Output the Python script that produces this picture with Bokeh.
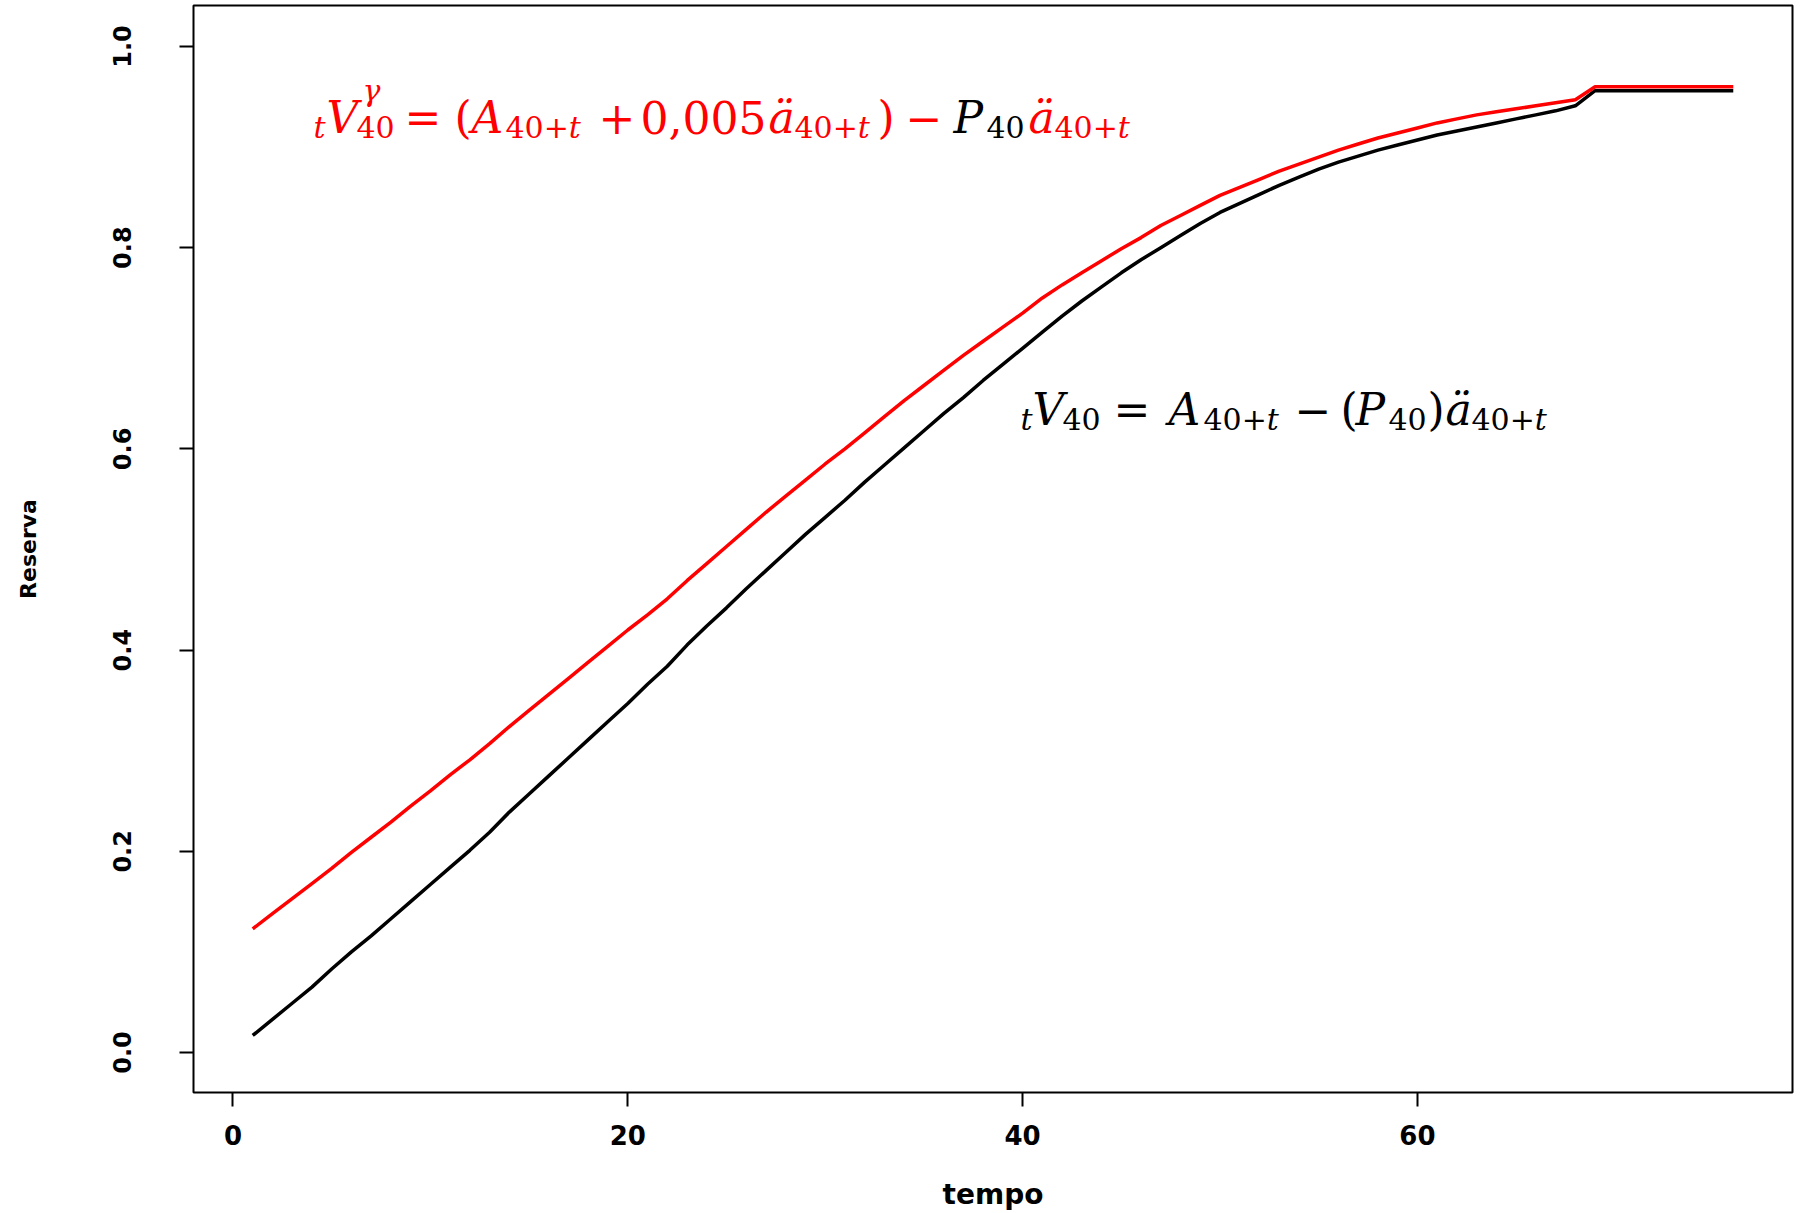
from bokeh.plotting import figure
from bokeh.models import Range1d, FixedTicker, PrintfTickFormatter, Label
from bokeh.embed import file_html
from bokeh.resources import INLINE

# ---- data ----
tempo = list(range(1, 77))
reserva = [0.017, 0.033, 0.049, 0.065, 0.083, 0.100, 0.116, 0.133, 0.150, 0.167,
           0.184, 0.201, 0.219, 0.239, 0.257, 0.275, 0.293, 0.311, 0.329, 0.347,
           0.366, 0.384, 0.405, 0.424, 0.442, 0.461, 0.479, 0.497, 0.515, 0.532,
           0.549, 0.567, 0.584, 0.601, 0.618, 0.635, 0.651, 0.668, 0.684, 0.700,
           0.716, 0.732, 0.747, 0.761, 0.775, 0.788, 0.800, 0.812, 0.824, 0.835,
           0.844, 0.853, 0.862, 0.870, 0.878, 0.885, 0.891, 0.897, 0.902, 0.907,
           0.912, 0.916, 0.920, 0.924, 0.928, 0.932, 0.936, 0.941, 0.956, 0.956,
           0.956, 0.956, 0.956, 0.956, 0.956, 0.956]
reserva_gamma = [0.123, 0.138, 0.153, 0.168, 0.183, 0.199, 0.214, 0.229, 0.245, 0.260,
                 0.276, 0.291, 0.307, 0.324, 0.340, 0.356, 0.372, 0.388, 0.404, 0.420,
                 0.435, 0.451, 0.469, 0.486, 0.503, 0.520, 0.537, 0.553, 0.569, 0.585,
                 0.600, 0.616, 0.632, 0.648, 0.663, 0.678, 0.693, 0.707, 0.721, 0.735,
                 0.750, 0.763, 0.775, 0.787, 0.799, 0.810, 0.822, 0.832, 0.842, 0.852,
                 0.860, 0.868, 0.876, 0.883, 0.890, 0.897, 0.903, 0.909, 0.914, 0.919,
                 0.924, 0.928, 0.932, 0.935, 0.938, 0.941, 0.944, 0.947, 0.960, 0.960,
                 0.960, 0.960, 0.960, 0.960, 0.960, 0.960]
x_ticks = [0, 20, 40, 60]
y_ticks = [0.0, 0.2, 0.4, 0.6, 0.8, 1.0]
x_label = "tempo"
y_label = "Reserva"

# ---- layout ----
W, H = 1804, 1213
F_LEFT, F_RIGHT, F_TOP, F_BOTTOM = 193, 1792, 5, 1093   # frame in page pixels
X0, X1 = -2.0, 79.0
Y0, Y1 = -0.0397, 1.0407

p = figure(width=W, height=H, output_backend="svg", toolbar_location=None,
           x_range=Range1d(X0, X1), y_range=Range1d(Y0, Y1),
           min_border_left=F_LEFT, min_border_right=W - F_RIGHT,
           min_border_top=F_TOP, min_border_bottom=H - F_BOTTOM)
p.grid.visible = False
p.background_fill_color = "white"
p.border_fill_color = "white"
p.outline_line_color = "black"
p.outline_line_width = 2

p.line(tempo, reserva, line_color="black", line_width=3.5)
p.line(tempo, reserva_gamma, line_color="red", line_width=3.5)

for ax in (p.xaxis[0], p.yaxis[0]):
    ax.axis_line_color = "black"
    ax.axis_line_width = 1
    ax.major_tick_line_color = "black"
    ax.major_tick_line_width = 2
    ax.major_tick_out = 14
    ax.major_tick_in = 0
    ax.minor_tick_line_color = None
    ax.major_label_text_font = "DejaVu Sans"
    ax.major_label_text_font_style = "bold"
    ax.major_label_text_color = "black"
    ax.axis_label_text_font = "DejaVu Sans"
    ax.axis_label_text_font_style = "bold"
    ax.axis_label_text_color = "black"

p.xaxis.ticker = FixedTicker(ticks=x_ticks)
p.yaxis.ticker = FixedTicker(ticks=y_ticks)
p.yaxis.formatter = PrintfTickFormatter(format="%.1f")
p.xaxis.major_label_text_font_size = "26px"
p.yaxis.major_label_text_font_size = "24px"
p.yaxis.major_label_orientation = "vertical"
p.xaxis.major_label_standoff = 18
p.yaxis.major_label_standoff = 48
p.xaxis.axis_label = x_label
p.yaxis.axis_label = y_label
p.xaxis.axis_label_text_font_size = "28px"
p.yaxis.axis_label_text_font_size = "22px"
p.xaxis.axis_label_standoff = 30
p.yaxis.axis_label_standoff = 70


def px2x(px):
    return X0 + (px - F_LEFT) / (F_RIGHT - F_LEFT) * (X1 - X0)


def py2y(py):
    return Y1 - (py - F_TOP) / (F_BOTTOM - F_TOP) * (Y1 - Y0)


MAIN, SUB = 44, 30


def piece(text, px, base, kind, color, italic):
    size = MAIN if kind == "main" else SUB
    if kind == "main":
        by = base
    elif kind == "sub":
        by = base + 10
    else:
        by = base - 27
    p.add_layout(Label(x=px2x(px), y=py2y(by), text=text,
                       text_font="DejaVu Serif", text_font_size=f"{size}px",
                       text_font_style="italic" if italic else "normal",
                       text_color=color, text_align="left",
                       text_baseline="alphabetic"))


R, K = "red", "black"
sp = (2 * 0.636 + 0.838) * SUB   # advance of "40+" in the subscript size

# red formula: tV40^gamma = (A40+t + 0,005 ä40+t) - P40 ä40+t
rb = 117
red_pieces = [
    ("t", 313, "sub", R, True), ("V", 326, "main", R, True),
    ("γ", 362, "sup", R, True), ("40", 356, "sub", R, False),
    ("=", 404, "main", R, False), ("(", 454, "main", R, False),
    ("A", 471, "main", R, True), ("40+", 505, "sub", R, False),
    ("t", 505 + sp, "sub", R, True), ("+", 598, "main", R, False),
    ("0,005", 640, "main", R, False), ("ä", 768, "main", R, True),
    ("40+", 794, "sub", R, False), ("t", 794 + sp, "sub", R, True),
    (")", 877, "main", R, False), ("−", 905, "main", R, False),
    ("P", 953, "main", K, True), ("40", 986, "sub", K, False),
    ("ä", 1028, "main", R, True), ("40+", 1054, "sub", R, False),
    ("t", 1054 + sp, "sub", R, True),
]
for t_, px, kind, col, it in red_pieces:
    piece(t_, px, rb, kind, col, it)

# black formula: tV40 = A40+t - (P40) ä40+t
kb = 409
black_pieces = [
    ("t", 1020, "sub", K, True), ("V", 1032, "main", K, True),
    ("40", 1062, "sub", K, False), ("=", 1113, "main", K, False),
    ("A", 1168, "main", K, True), ("40+", 1203, "sub", K, False),
    ("t", 1203 + sp, "sub", K, True), ("−", 1294, "main", K, False),
    ("(", 1340, "main", K, False), ("P", 1355, "main", K, True),
    ("40", 1388, "sub", K, False), (")", 1427, "main", K, False),
    ("ä", 1445, "main", K, True), ("40+", 1471, "sub", K, False),
    ("t", 1471 + sp, "sub", K, True),
]
for t_, px, kind, col, it in black_pieces:
    piece(t_, px, kb, kind, col, it)

open("out.html", "w").write(file_html(p, INLINE))
